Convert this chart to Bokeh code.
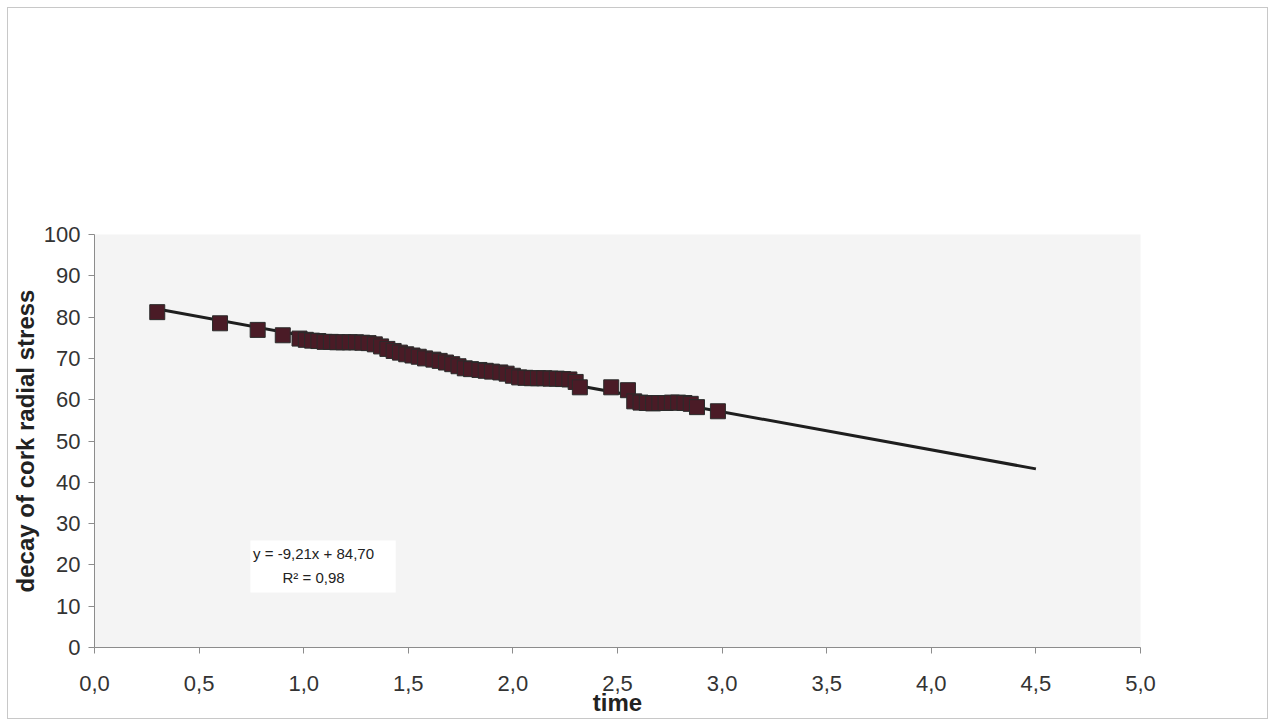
from bokeh.plotting import figure
from bokeh.models import ColumnDataSource, Label, BoxAnnotation, CustomJSTickFormatter, FixedTicker
from bokeh.embed import file_html
from bokeh.resources import INLINE

# ---- data ----
time = [0.30, 0.60, 0.78, 0.90, 0.98, 1.01, 1.04, 1.07, 1.10, 1.13, 1.16, 1.19, 1.22,
        1.25, 1.28, 1.31, 1.34, 1.37, 1.40, 1.43, 1.46, 1.49, 1.52, 1.55, 1.58, 1.62,
        1.65, 1.68, 1.71, 1.74, 1.77, 1.80, 1.84, 1.87, 1.90, 1.94, 1.97, 2.00, 2.03,
        2.06, 2.09, 2.12, 2.15, 2.18, 2.21, 2.24, 2.27, 2.30, 2.32, 2.47, 2.55, 2.58,
        2.61, 2.64, 2.67, 2.70, 2.73, 2.76, 2.79, 2.82, 2.85, 2.88, 2.98]
stress = [81.2, 78.5, 76.9, 75.6, 74.8, 74.5, 74.3, 74.2, 74.0, 74.0, 73.9, 73.9, 73.9,
          73.9, 73.8, 73.7, 73.4, 72.9, 72.3, 71.8, 71.4, 71.0, 70.7, 70.4, 70.0, 69.7,
          69.4, 69.0, 68.6, 68.1, 67.6, 67.4, 67.2, 67.0, 66.8, 66.6, 66.3, 65.8, 65.4,
          65.3, 65.2, 65.2, 65.2, 65.1, 65.1, 65.0, 64.9, 64.3, 63.0, 63.0, 62.3, 59.6,
          59.3, 59.2, 59.1, 59.2, 59.2, 59.3, 59.3, 59.2, 59.0, 58.2, 57.2]
trend_slope = -9.21
trend_intercept = 84.70
trend_x = [0.30, 4.50]
x_ticks = [0.0, 0.5, 1.0, 1.5, 2.0, 2.5, 3.0, 3.5, 4.0, 4.5, 5.0]
y_ticks = [0, 10, 20, 30, 40, 50, 60, 70, 80, 90, 100]
equation_text = "y = -9,21x + 84,70"
r2_text = "R\u00b2 = 0,98"

trend_y = [trend_slope * xv + trend_intercept for xv in trend_x]

FONT = "Liberation Sans"

p = figure(frame_width=1046, frame_height=413, x_range=(0, 5), y_range=(0, 100),
           output_backend="svg", toolbar_location=None,
           min_border_left=84, min_border_right=127, min_border_top=226, min_border_bottom=65)
p.styles = {"border": "1px solid #c8c8c8", "margin": "7px 0 0 7px"}
p.background_fill_color = "#f4f4f4"
p.border_fill_color = "white"
p.outline_line_color = None
p.xgrid.grid_line_color = None
p.ygrid.grid_line_color = None

# axes
p.xaxis.ticker = FixedTicker(ticks=x_ticks)
p.yaxis.ticker = FixedTicker(ticks=y_ticks)
p.xaxis.formatter = CustomJSTickFormatter(code="return tick.toFixed(1).replace('.', ',');")
p.yaxis.formatter = CustomJSTickFormatter(code="return tick.toFixed(0);")
for ax in (p.xaxis, p.yaxis):
    ax.axis_line_color = "#8c8c8c"
    ax.major_tick_line_color = "#8c8c8c"
    ax.minor_tick_line_color = None
    ax.major_tick_in = 0
    ax.major_tick_out = 6
    ax.major_label_text_font = FONT
    ax.major_label_text_font_size = "22px"
    ax.major_label_text_color = "#333333"
    ax.axis_label_text_font = FONT
    ax.axis_label_text_font_style = "bold"
    ax.axis_label_text_color = "#222222"
    ax.axis_label_text_font_size = "24px"
p.xaxis.axis_label = "time"
p.yaxis.axis_label = "decay of cork radial stress"
p.xaxis.major_label_standoff = 22
p.xaxis.axis_label_standoff = -5
p.yaxis.major_label_standoff = 8
p.yaxis.axis_label_standoff = 2

src = ColumnDataSource(dict(x=time, y=stress))
p.line(trend_x, trend_y, line_color="#1e1e1e", line_width=3)
p.scatter("x", "y", source=src, marker="square", size=15,
          fill_color="#4a1b26", line_color="#2b2b2b", line_width=1)

# equation box
box = BoxAnnotation(left=0.745, right=1.44, bottom=13.3, top=25.9,
                    fill_color="white", fill_alpha=1.0, line_color=None)
p.add_layout(box)
p.add_layout(Label(x=1.047, y=22.8, text=equation_text, text_align="center",
                   text_baseline="middle", text_font=FONT, text_font_size="15px",
                   text_color="#222222"))
p.add_layout(Label(x=1.047, y=17.0, text=r2_text, text_align="center",
                   text_baseline="middle", text_font=FONT, text_font_size="15px",
                   text_color="#222222"))

open("out.html", "w").write(file_html(p, INLINE))
